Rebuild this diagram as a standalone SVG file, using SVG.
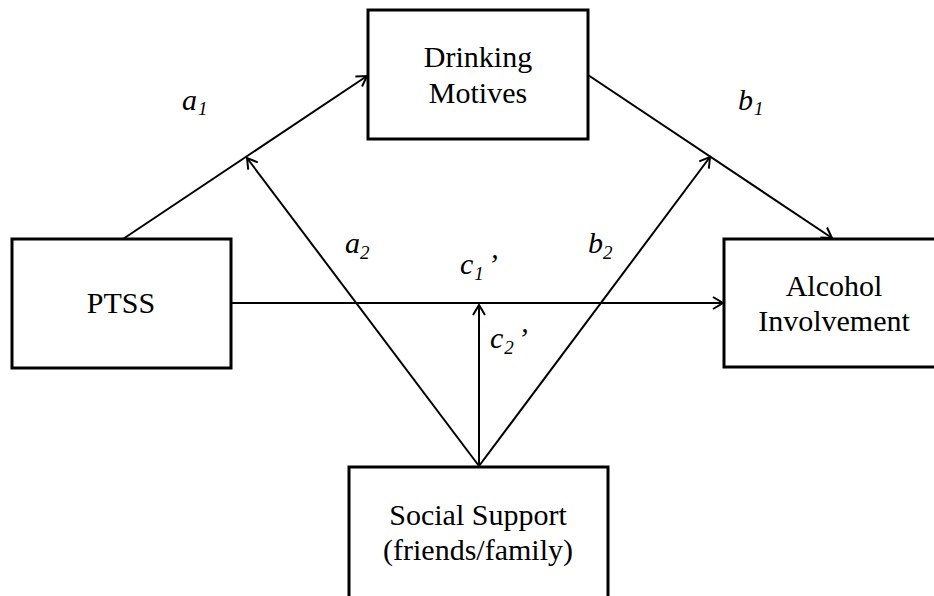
<svg xmlns="http://www.w3.org/2000/svg" width="934" height="596" viewBox="0 0 934 596">
<style>
.box{fill:#fff;stroke:#000;stroke-width:3}
.t{font-family:"Liberation Serif","Times New Roman",serif;font-size:30px;fill:#000;text-anchor:middle}
.lab{font-family:"Liberation Serif","Times New Roman",serif;font-size:30px;font-style:italic;fill:#000}
.sub{font-size:19px}
.c{stroke:#000;stroke-width:2;fill:none}
</style>
<defs>
<marker id="ah" markerUnits="userSpaceOnUse" viewBox="-12 -8 14 16" refX="0" refY="0" markerWidth="14" markerHeight="16" orient="auto">
<path d="M-10,-6 L0,0 L-10,6" fill="none" stroke="#000" stroke-width="2"/>
</marker>
</defs>
<rect width="934" height="596" fill="#fff"/>
<g id="connectors">
<line class="c" x1="123" y1="239" x2="367" y2="76" marker-end="url(#ah)"/>
<line class="c" x1="588" y1="75" x2="832" y2="238" marker-end="url(#ah)"/>
<line class="c" x1="231" y1="303" x2="723" y2="303" marker-end="url(#ah)"/>
<line class="c" x1="479" y1="466" x2="247" y2="158" marker-end="url(#ah)"/>
<line class="c" x1="479" y1="466" x2="710" y2="157" marker-end="url(#ah)"/>
<line class="c" x1="479" y1="466" x2="479" y2="305" marker-end="url(#ah)"/>
</g>
<g id="drinking-motives">
<rect class="box" x="368" y="10" width="220" height="129"/>
<text class="t" x="478" y="67">Drinking</text>
<text class="t" x="478" y="103">Motives</text>
</g>
<g id="ptss">
<rect class="box" x="12" y="239" width="219" height="129"/>
<text class="t" x="121" y="313">PTSS</text>
</g>
<g id="alcohol-involvement">
<rect class="box" x="724" y="239" width="220" height="128"/>
<text class="t" x="834" y="296">Alcohol</text>
<text class="t" x="834" y="331">Involvement</text>
</g>
<g id="social-support">
<rect class="box" x="349" y="467" width="259" height="131"/>
<text class="t" x="478" y="525">Social Support</text>
<text class="t" x="478" y="560">(friends/family)</text>
</g>
<g id="labels">
<text class="lab" x="182" y="110">a<tspan class="sub" dx="1" dy="5">1</tspan></text>
<text class="lab" x="738" y="110">b<tspan class="sub" dx="1" dy="5">1</tspan></text>
<text class="lab" x="345" y="253">a<tspan class="sub" dx="0" dy="6">2</tspan></text>
<text class="lab" x="588" y="253">b<tspan class="sub" dx="0" dy="6">2</tspan></text>
<text class="lab" x="460" y="274">c<tspan class="sub" dx="1" dy="6">1</tspan><tspan dx="4" dy="-6">’</tspan></text>
<text class="lab" x="490" y="348">c<tspan class="sub" dx="1" dy="6">2</tspan><tspan dx="4" dy="-6">’</tspan></text>
</g>
</svg>
